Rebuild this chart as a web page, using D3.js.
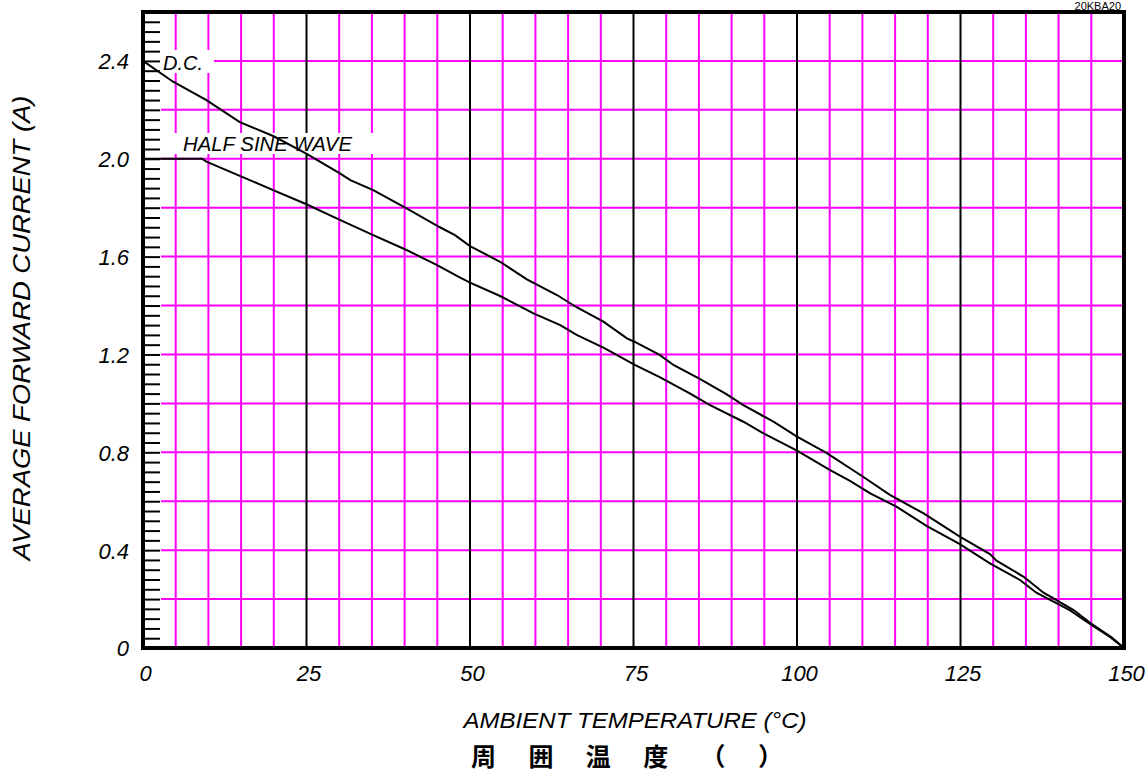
<!DOCTYPE html>
<html>
<head>
<meta charset="utf-8">
<script src="https://cdn.jsdelivr.net/npm/d3@7/dist/d3.min.js"></script>
<style>
	body { margin: 0; background: #fff; }
	svg { display: block; }
	.lbl { font-family: "Liberation Sans", Arial, sans-serif; font-style: italic; fill: #000; }
	.domain { display: none; }
</style>
</head>
<body>
<svg id="chart"></svg>
<script>
/*=================
=== The data
=================*/
var dcTemp = [0, 4.6, 9.7, 14.8, 19.9, 24.9, 30.1, 31.7, 35.2, 40.3, 45.4, 47.7, 50, 54.6, 58.7, 63.3, 66.3, 70.4, 74, 75.2, 79, 81.1, 85.2, 89.2, 91.8, 96.4, 100, 104.5, 110.1, 114.2, 119.3, 124.9, 129.5, 130.5, 134.6, 137.7, 142.3, 144.8, 148.1, 150];
var dcCurrent = [2.40, 2.315, 2.24, 2.15, 2.093, 2.022, 1.94, 1.913, 1.872, 1.797, 1.72, 1.688, 1.643, 1.579, 1.507, 1.443, 1.393, 1.334, 1.266, 1.251, 1.198, 1.157, 1.099, 1.038, 0.993, 0.925, 0.864, 0.798, 0.700, 0.626, 0.551, 0.455, 0.384, 0.357, 0.292, 0.226, 0.155, 0.103, 0.044, 0];

var hswTemp = [0, 9, 9.7, 14.8, 19.9, 24.9, 30.1, 35.2, 40.3, 44.9, 48.5, 50, 54.6, 59.7, 63.8, 66.3, 70.4, 75.2, 79, 83.6, 86.7, 91.8, 94.8, 100, 105, 108.1, 111.2, 115.2, 119.8, 124.9, 129.5, 134.1, 136.6, 141.7, 144.8, 147.9, 150];
var hswCurrent = [2.0, 2.0, 1.988, 1.93, 1.872, 1.815, 1.75, 1.688, 1.627, 1.566, 1.514, 1.494, 1.439, 1.368, 1.32, 1.28, 1.228, 1.157, 1.107, 1.041, 0.993, 0.925, 0.878, 0.807, 0.728, 0.683, 0.632, 0.578, 0.499, 0.425, 0.346, 0.278, 0.226, 0.155, 0.098, 0.044, 0];

var xTickLabels = [0, 25, 50, 75, 100, 125, 150];
var yTickLabels = [0, 0.4, 0.8, 1.2, 1.6, 2.0, 2.4];

/*=================
=== The vars
=================*/
var width = 1148, height = 775;
var svg = d3.select('#chart').attr('width', width).attr('height', height);

var x = d3.scaleLinear().domain([0, 150]).range([143, 1124]);
var y = d3.scaleLinear().domain([0, 2.6]).range([648, 12]);

var dcData = dcTemp.map(function (t, i) { return [t, dcCurrent[i]]; });
var hswData = hswTemp.map(function (t, i) { return [t, hswCurrent[i]]; });

var myLine = d3.line()
	.x(function (d) { return x(d[0]); })
	.y(function (d) { return y(d[1]); });

/*=================
=== Grid
=================*/
var grid = svg.append('g').attr('class', 'grid');

grid.selectAll('.hgrid')
	.data(d3.range(1, 13).map(function (i) { return i * 0.2; }))
	.enter().append('line')
	.attr('x1', 161).attr('x2', x(150))
	.attr('y1', function (d) { return y(d); })
	.attr('y2', function (d) { return y(d); })
	.attr('stroke', '#ff00ff').attr('stroke-width', 2);

grid.selectAll('.vgrid')
	.data(d3.range(1, 30).map(function (i) { return i * 5; }))
	.enter().append('line')
	.attr('x1', function (d) { return x(d); })
	.attr('x2', function (d) { return x(d); })
	.attr('y1', y(2.6)).attr('y2', y(0))
	.attr('stroke', function (d) { return d % 25 === 0 ? '#000' : '#ff00ff'; })
	.attr('stroke-width', 2);

// white patches behind the curve names
svg.append('rect').attr('x', 161).attr('y', 50).attr('width', 53).attr('height', 23).attr('fill', '#fff');
svg.append('rect').attr('x', 171).attr('y', 133).attr('width', 208).attr('height', 21).attr('fill', '#fff');

/*=================
=== Curves
=================*/
svg.append('path').datum(dcData)
	.attr('d', myLine).attr('fill', 'none')
	.attr('stroke', '#000').attr('stroke-width', 2);

svg.append('path').datum(hswData)
	.attr('d', myLine).attr('fill', 'none')
	.attr('stroke', '#000').attr('stroke-width', 2);

svg.append('text').attr('class', 'lbl')
	.attr('x', 163).attr('y', 70)
	.style('font-size', '20px')
	.text('D.C.');

svg.append('text').attr('class', 'lbl')
	.attr('x', 183).attr('y', 151)
	.style('font-size', '20px')
	.attr('textLength', 169).attr('lengthAdjust', 'spacingAndGlyphs')
	.text('HALF SINE WAVE');

/*=================
=== Axes
=================*/
// minor ticks on the left, drawn inside the plot
svg.append('g')
	.attr('transform', 'translate(' + x(0) + ',0)')
	.call(d3.axisLeft(y).tickValues(d3.range(1, 65).map(function (i) { return i * 0.04; }).filter(function (v) { return v < 2.59; }))
		.tickSize(-17).tickFormat(''))
	.selectAll('.tick line').attr('stroke', '#000').attr('stroke-width', 2);

var yAxis = svg.append('g')
	.attr('transform', 'translate(' + x(0) + ',0)')
	.call(d3.axisLeft(y).tickValues(yTickLabels).tickSize(0).tickPadding(14)
		.tickFormat(function (d) { return d === 0 ? '0' : d3.format('.1f')(d); }));
yAxis.selectAll('text').attr('class', 'lbl').style('font-size', '22px').attr('dy', '0.36em');

var xAxis = svg.append('g')
	.attr('transform', 'translate(0,' + y(0) + ')')
	.call(d3.axisBottom(x).tickValues(xTickLabels).tickSize(0).tickPadding(0));
xAxis.selectAll('text').attr('class', 'lbl').style('font-size', '22px')
	.attr('y', 33).attr('dy', 0).attr('dx', 2);

// frame
var frame = svg.append('g').attr('stroke', '#000').attr('stroke-width', 4).attr('fill', 'none');
frame.append('line').attr('x1', x(0)).attr('x2', x(0)).attr('y1', y(2.6) - 2).attr('y2', y(0) + 2);
frame.append('line').attr('x1', x(0) - 2).attr('x2', x(150) + 2).attr('y1', y(0)).attr('y2', y(0));
frame.append('line').attr('x1', x(0) - 2).attr('x2', x(150) + 2).attr('y1', y(2.6)).attr('y2', y(2.6));
frame.append('line').attr('x1', x(150)).attr('x2', x(150)).attr('y1', y(2.6) - 2).attr('y2', y(0) + 2);

/*=================
=== Titles
=================*/
svg.append('text').attr('class', 'lbl')
	.attr('transform', 'translate(30,328) rotate(-90)')
	.attr('text-anchor', 'middle')
	.style('font-size', '23px')
	.attr('textLength', 465).attr('lengthAdjust', 'spacingAndGlyphs')
	.text('AVERAGE FORWARD CURRENT (A)');

svg.append('text').attr('class', 'lbl')
	.attr('x', 635).attr('y', 728)
	.attr('text-anchor', 'middle')
	.style('font-size', '22px')
	.attr('textLength', 343).attr('lengthAdjust', 'spacingAndGlyphs')
	.text('AMBIENT TEMPERATURE (°C)');

svg.append('text')
	.attr('x', 471).attr('y', 766)
	.style('font-family', '"Noto Sans CJK JP", sans-serif')
	.style('font-weight', 'bold')
	.style('font-size', '25px')
	.attr('textLength', 312).attr('lengthAdjust', 'spacing')
	.text('周 囲 温 度 （ ）');

// part number above the frame, kept small so it stays on the page
svg.append('text')
	.attr('x', 1121).attr('y', 10)
	.attr('text-anchor', 'end')
	.style('font-family', '"Liberation Sans", Arial, sans-serif')
	.style('font-size', '11px')
	.text('20KBA20');
</script>
</body>
</html>
